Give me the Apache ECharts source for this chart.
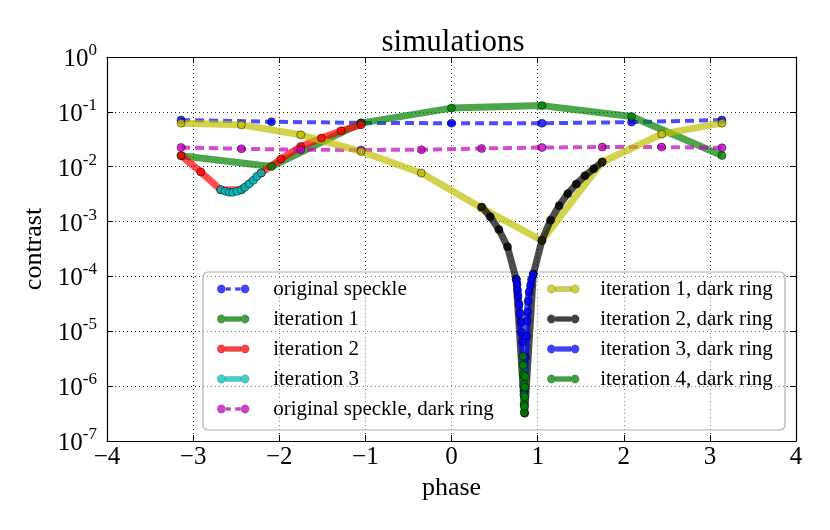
<!DOCTYPE html>
<html>
<head>
<meta charset="utf-8">
<script src="https://cdn.jsdelivr.net/npm/echarts@6/dist/echarts.min.js"></script>
<style>
  html, body { margin: 0; padding: 0; background: #fff; }
  #chart { width: 830px; height: 530px; }
</style>
</head>
<body>
<div id="chart"></div>
<script>
// phase values (x)
var phaseCoarse = [-3.14, -2.09, -1.05, 0, 1.05, 2.09, 3.14];
var phaseRing = [-3.14, -2.44, -1.75, -1.05, -0.35, 0.35, 1.05, 1.75, 2.44, 3.14];
var phaseIter2 = [-3.14, -2.91, -2.68, -2.44, -2.21, -1.98, -1.75, -1.51, -1.28, -1.05];
var phaseIter3 = [-2.68, -2.63, -2.58, -2.54, -2.49, -2.44, -2.40, -2.35, -2.30, -2.26, -2.21];
var phaseRing2 = [0.35, 0.45, 0.55, 0.65, 0.75, 0.85, 0.95, 1.05, 1.15, 1.25, 1.35, 1.45, 1.55, 1.65, 1.75];
var phaseRing3 = [0.755, 0.762, 0.767, 0.773, 0.785, 0.793, 0.805, 0.813, 0.825, 0.845,
                  0.859, 0.871, 0.878, 0.883, 0.890, 0.901, 0.918, 0.929, 0.948];
var phaseRing4 = [0.832, 0.834, 0.836, 0.838, 0.840, 0.842, 0.844, 0.847, 0.850, 0.853, 0.856];

// contrast values (y)
var speckle = [0.071, 0.066, 0.063, 0.062, 0.062, 0.065, 0.071];
var iter1 = [0.0158, 0.0101, 0.0623, 0.117, 0.130, 0.082, 0.016];
var iter2 = [0.016, 0.0080, 0.0038, 0.0038, 0.0077, 0.0138, 0.0234, 0.0333, 0.0452, 0.0581];
var iter3 = [0.00382, 0.00356, 0.00341, 0.00341, 0.00356, 0.00382, 0.00421, 0.00484, 0.00564, 0.00667, 0.00767];
var speckleRing = [0.0224, 0.0212, 0.0204, 0.0202, 0.0204, 0.0215, 0.0224, 0.0228, 0.0228, 0.0221];
var ring1 = [0.0623, 0.058, 0.0382, 0.019, 0.00768, 0.00177, 0.000451, 0.0122, 0.0393, 0.0623];
var ring2 = [0.00185, 0.00122, 0.000716, 0.000347, 8.9e-5, 3.2e-7, 1.1e-4, 0.000452,
             0.00106, 0.00195, 0.00323, 0.00484, 0.00686, 0.0092, 0.0122];
var ring3 = [8.8e-5, 7.2e-5, 5.6e-5, 4.4e-5, 3.1e-5, 2.1e-5, 1.44e-5, 9.5e-6, 6.4e-6, 7.9e-7,
             3.3e-6, 8.2e-6, 1.54e-5, 2.24e-5, 3.56e-5, 5.2e-5, 6.9e-5, 8.8e-5, 1.09e-4];
var ring4 = [3.5e-6, 2.4e-6, 1.6e-6, 1.05e-6, 7.0e-7, 4.6e-7, 3.3e-7, 4.3e-7, 6.4e-7, 9.5e-7, 1.5e-6];

var leftNames = ['original speckle', 'iteration 1', 'iteration 2', 'iteration 3', 'original speckle, dark ring'];
var rightNames = ['iteration 1, dark ring', 'iteration 2, dark ring', 'iteration 3, dark ring', 'iteration 4, dark ring'];

var serif = 'Liberation Serif, Times New Roman, serif';

function pairs(xs, ys) {
  return xs.map(function (x, i) { return [x, ys[i]]; });
}

function line(name, xs, ys, color, dashed) {
  return {
    name: name,
    type: 'line',
    data: pairs(xs, ys),
    symbol: 'circle',
    symbolSize: 8,
    showAllSymbol: true,
    animation: false,
    lineStyle: {
      color: color,
      width: dashed ? 4 : 7,
      opacity: 0.7,
      type: dashed ? [9, 5] : 'solid',
      cap: 'butt'
    },
    itemStyle: { color: color, borderColor: '#000', borderWidth: 0.6, opacity: 0.8 },
    emphasis: { disabled: true }
  };
}

// legend icons: two dots joined by a bar (solid) or by dashes
var solidIcon = 'path://M0.5,4.5A4,4,0,1,1,8.5,4.5A4,4,0,1,1,0.5,4.5Z' +
  'M8.5,2L23.5,2L23.5,7L8.5,7Z' +
  'M23.5,4.5A4,4,0,1,1,31.5,4.5A4,4,0,1,1,23.5,4.5Z';
var dashIcon = 'path://M0.5,4.5A4,4,0,1,1,8.5,4.5A4,4,0,1,1,0.5,4.5Z' +
  'M9,3L13.5,3L13.5,6L9,6Z M18,3L23,3L23,6L18,6Z' +
  'M23.5,4.5A4,4,0,1,1,31.5,4.5A4,4,0,1,1,23.5,4.5Z';

function legendItems(names) {
  return names.map(function (n) {
    return { name: n, icon: n.indexOf('original') === 0 ? dashIcon : solidIcon };
  });
}

var chart = echarts.init(document.getElementById('chart'));

var legendText = { fontFamily: serif, fontSize: 21, color: '#000', lineHeight: 22 };
var legendIconStyle = { borderWidth: 0.4, borderColor: 'rgba(0,0,0,0.5)', opacity: 0.75 };

var option = {
  backgroundColor: '#fff',
  animation: false,
  title: {
    text: 'simulations',
    left: 453,
    textAlign: 'center',
    top: 27,
    padding: 0,
    textStyle: { fontFamily: serif, fontSize: 31, fontWeight: 'normal', color: '#000' }
  },
  grid: { left: 107, right: 34, top: 57, bottom: 89 },
  graphic: [{
    type: 'rect',
    silent: true,
    z: 1,
    shape: { x: 203, y: 272, width: 582, height: 158, r: 5 },
    style: { fill: 'rgba(255,255,255,0.35)', stroke: '#b0b0b0', lineWidth: 1.2 }
  }],
  legend: [{
    orient: 'vertical',
    left: 217,
    top: 278,
    padding: 0,
    itemGap: 8,
    itemWidth: 32,
    itemHeight: 9,
    selectedMode: false,
    data: legendItems(leftNames),
    itemStyle: legendIconStyle,
    textStyle: Object.assign({ padding: [0, 0, 0, 19] }, legendText)
  }, {
    orient: 'vertical',
    left: 547,
    top: 278,
    padding: 0,
    itemGap: 8,
    itemWidth: 32,
    itemHeight: 9,
    selectedMode: false,
    data: legendItems(rightNames),
    itemStyle: legendIconStyle,
    textStyle: Object.assign({ padding: [0, 0, 0, 16] }, legendText)
  }],
  xAxis: [{
    type: 'value',
    min: -4,
    max: 4,
    interval: 1,
    name: 'phase',
    nameLocation: 'middle',
    nameGap: 34,
    nameTextStyle: { fontFamily: serif, fontSize: 26, color: '#000' },
    axisLine: { onZero: false, lineStyle: { color: '#000', width: 1.2 } },
    axisTick: { inside: true, length: 6, lineStyle: { color: '#000' } },
    axisLabel: {
      fontFamily: serif, fontSize: 25, color: '#000', margin: 4,
      formatter: function (v) { return String(v).replace('-', '\u2212'); }
    },
    splitLine: { show: true, lineStyle: { color: '#333', type: [1, 3], width: 1 } }
  }, {
    type: 'value',
    position: 'top',
    min: -4,
    max: 4,
    interval: 1,
    axisLine: { show: true, onZero: false, lineStyle: { color: '#000', width: 1.2 } },
    axisTick: { show: true, inside: true, length: 6, lineStyle: { color: '#000' } },
    axisLabel: { show: false },
    splitLine: { show: false }
  }],
  yAxis: [{
    type: 'log',
    logBase: 10,
    min: 1e-7,
    max: 1,
    name: 'contrast',
    nameLocation: 'middle',
    nameRotate: 90,
    nameGap: 57,
    nameTextStyle: { fontFamily: serif, fontSize: 26, color: '#000' },
    axisLine: { show: true, onZero: false, lineStyle: { color: '#000', width: 1.2 } },
    axisTick: { show: true, inside: true, length: 6, lineStyle: { color: '#000' } },
    axisLabel: {
      margin: 10,
      formatter: function (v) {
        var e = Math.round(Math.log10(v));
        return '{b|10}{e|' + e + '}';
      },
      rich: {
        b: { fontFamily: serif, fontSize: 25, color: '#000', lineHeight: 30, verticalAlign: 'bottom' },
        e: { fontFamily: serif, fontSize: 17, color: '#000', lineHeight: 30, verticalAlign: 'top' }
      }
    },
    splitLine: { show: true, lineStyle: { color: '#333', type: [1, 3], width: 1 } }
  }, {
    type: 'log',
    logBase: 10,
    min: 1e-7,
    max: 1,
    position: 'right',
    axisLine: { show: true, onZero: false, lineStyle: { color: '#000', width: 1.2 } },
    axisTick: { show: true, inside: true, length: 6, lineStyle: { color: '#000' } },
    axisLabel: { show: false },
    splitLine: { show: false }
  }],
  series: [
    line('original speckle', phaseCoarse, speckle, '#0000ff', true),
    line('iteration 1', phaseCoarse, iter1, '#008000', false),
    line('iteration 2', phaseIter2, iter2, '#ff0000', false),
    line('iteration 3', phaseIter3, iter3, '#00bfbf', false),
    line('original speckle, dark ring', phaseRing, speckleRing, '#bf00bf', true),
    line('iteration 1, dark ring', phaseRing, ring1, '#bfbf00', false),
    line('iteration 2, dark ring', phaseRing2, ring2, '#000000', false),
    line('iteration 3, dark ring', phaseRing3, ring3, '#0000ff', false),
    line('iteration 4, dark ring', phaseRing4, ring4, '#008000', false)
  ]
};

chart.setOption(option);
</script>
</body>
</html>
